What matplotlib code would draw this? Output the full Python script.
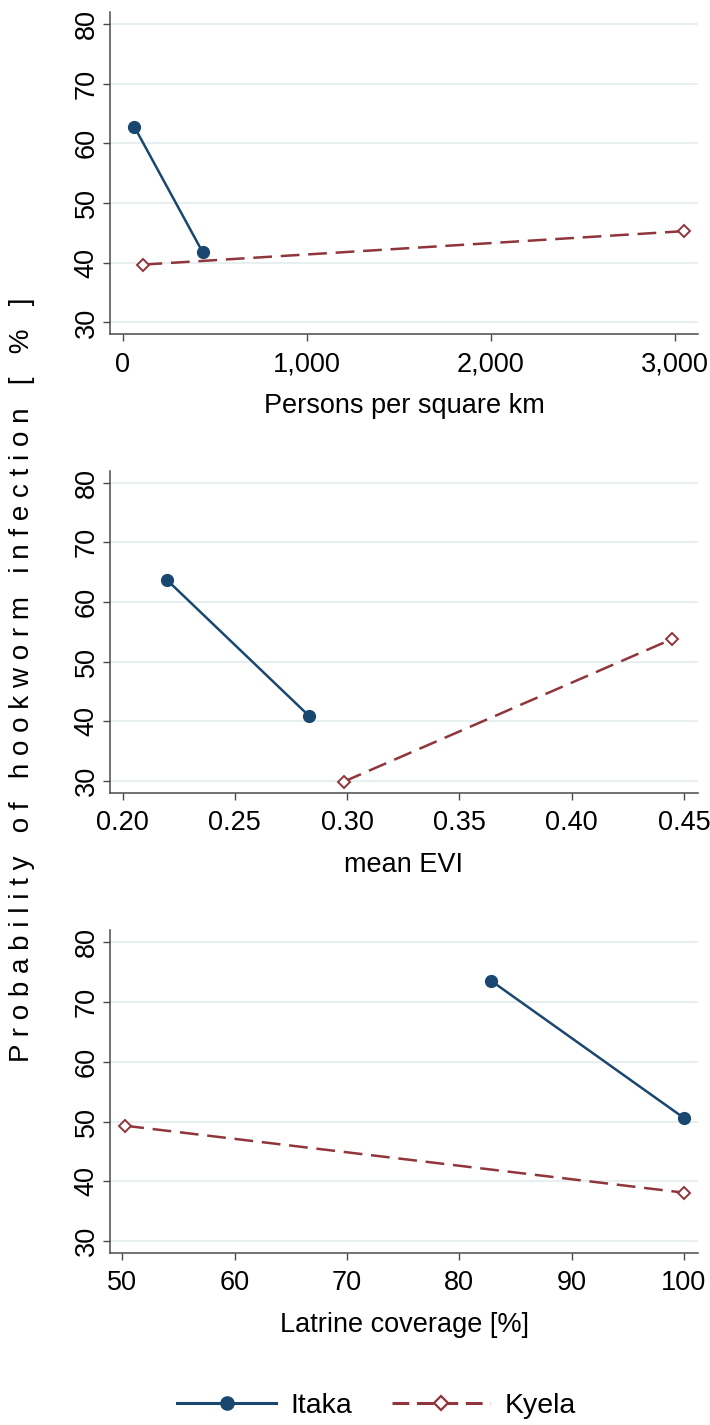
import matplotlib
matplotlib.use("Agg")
import matplotlib.pyplot as plt
from matplotlib.lines import Line2D

plt.rcParams['font.family'] = ['Liberation Sans', 'DejaVu Sans']

# ---- data ----
series_names = ["Itaka", "Kyela"]

density_itaka_x = [64, 435]
density_itaka_y = [62.8, 41.8]
density_kyela_x = [114, 3050]
density_kyela_y = [39.7, 45.3]

evi_itaka_x = [0.2198, 0.2831]
evi_itaka_y = [63.7, 40.9]
evi_kyela_x = [0.2985, 0.4447]
evi_kyela_y = [29.9, 53.8]

latrine_itaka_x = [82.8, 100.0]
latrine_itaka_y = [73.6, 50.6]
latrine_kyela_x = [50.25, 100.0]
latrine_kyela_y = [49.3, 38.1]

density_ticks = [0, 1000, 2000, 3000]
density_ticklabels = ["0", "1,000", "2,000", "3,000"]
evi_ticks = [0.20, 0.25, 0.30, 0.35, 0.40, 0.45]
evi_ticklabels = ["0.20", "0.25", "0.30", "0.35", "0.40", "0.45"]
latrine_ticks = [50, 60, 70, 80, 90, 100]
latrine_ticklabels = ["50", "60", "70", "80", "90", "100"]
y_ticks = [30, 40, 50, 60, 70, 80]
y_ticklabels = ["30", "40", "50", "60", "70", "80"]

x_titles = ["Persons per square km", "mean EVI", "Latrine coverage [%]"]
y_title = "Probability of hookworm infection [ % ]"

# ---- style ----
C_ITAKA = "#1a476f"
C_KYELA = "#90353b"
GRID = "#e6eef0"
AXC = "#4a4a4a"
FS = 19.5

W, H = 710, 1425
fig = plt.figure(figsize=(W / 100, H / 100), dpi=100)

def add_axes(top_px, bottom_px, left_px=110, right_px=698):
    return fig.add_axes([left_px / W, 1 - bottom_px / H,
                         (right_px - left_px) / W, (bottom_px - top_px) / H])

panels = [
    (12.1, 334.4, (-68, 3127), density_ticks, density_ticklabels,
     density_itaka_x, density_itaka_y, density_kyela_x, density_kyela_y),
    (470.8, 793.0, (0.19443, 0.45623), evi_ticks, evi_ticklabels,
     evi_itaka_x, evi_itaka_y, evi_kyela_x, evi_kyela_y),
    (930.4, 1253.0, (48.89, 101.25), latrine_ticks, latrine_ticklabels,
     latrine_itaka_x, latrine_itaka_y, latrine_kyela_x, latrine_kyela_y),
]

for i, (tp, bp, xl, xt, xtl, ix, iy, kx, ky) in enumerate(panels):
    ax = add_axes(tp, bp)
    ax.set_ylim(28, 82)
    ax.set_xlim(*xl)
    ax.set_yticks(y_ticks)
    ax.set_yticklabels(y_ticklabels, rotation=90, va='center')
    ax.set_xticks(xt)
    ax.set_xticklabels(xtl)
    for y in y_ticks:
        ax.axhline(y, color=GRID, lw=1.3, zorder=0)
    ax.plot(ix, iy, color=C_ITAKA, lw=1.8, marker='o', ms=8.5,
            mfc=C_ITAKA, mec=C_ITAKA, zorder=3)
    ax.plot(kx, ky, color=C_KYELA, lw=1.8, linestyle=(0, (7.5, 3.5)),
            marker='D', ms=6.5, mfc='white', mec=C_KYELA, mew=1.4, zorder=3)
    for s in ['top', 'right']:
        ax.spines[s].set_visible(False)
    for s in ['left', 'bottom']:
        ax.spines[s].set_color(AXC)
        ax.spines[s].set_linewidth(1.1)
    ax.tick_params(axis='both', colors=AXC, labelcolor='black', length=5,
                   width=1.0, labelsize=FS)
    ax.tick_params(axis='y', pad=2.5)
    ax.tick_params(axis='x', pad=7.5)
    ax.set_xlabel(x_titles[i], fontsize=FS, labelpad=11)

spaced = "   ".join(" ".join(w) for w in y_title.split(" "))
fig.text(22 / W, 1 - 679.5 / H, spaced, rotation=90, ha='center', va='center',
         fontsize=20)

handles = [
    Line2D([], [], color=C_ITAKA, lw=2.2, marker='o', ms=9.5, mfc=C_ITAKA, mec=C_ITAKA),
    Line2D([], [], color=C_KYELA, lw=2.2, linestyle=(0, (5.5, 2.5)), marker='D',
           ms=7.5, mfc='white', mec=C_KYELA, mew=1.6),
]
fig.legend(handles, series_names, loc='center', bbox_to_anchor=(376.5 / W, 1 - 1406 / H),
           ncol=2, frameon=False, fontsize=20.5, handlelength=3.47,
           handletextpad=0.49, columnspacing=1.4, numpoints=1, borderpad=0)

fig.savefig("out.png", dpi=100)
